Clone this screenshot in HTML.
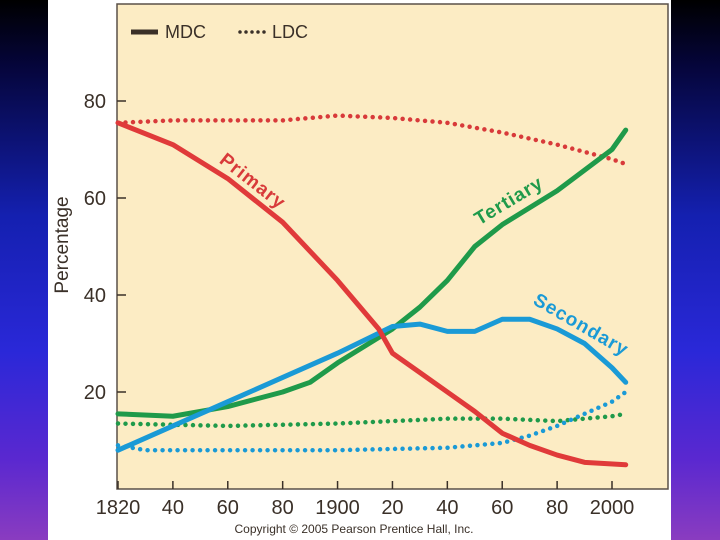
<!DOCTYPE html>
<html><head><meta charset="utf-8"><style>
html,body{margin:0;padding:0;}
body{width:720px;height:540px;overflow:hidden;background:linear-gradient(180deg,#000 0%,#05053a 12%,#1420b0 40%,#2a28d8 65%,#5a28d0 85%,#8a3cc0 100%);font-family:"Liberation Sans",sans-serif;}
svg{display:block;}
</style></head><body>
<svg width="720" height="540">
<rect x="48" y="0" width="623" height="540" fill="#ffffff"/>
<rect x="117" y="4" width="551" height="485" fill="#fcecc4" stroke="#5a5048" stroke-width="1.5"/>
<g id="axes"></g>
<g id="series"></g>
<g>
<line x1="131" y1="32" x2="158" y2="32" stroke="#3a3028" stroke-width="5"/>
<text x="165" y="38" font-size="18" fill="#3a3028">MDC</text>
<line x1="240" y1="32" x2="270" y2="32" stroke="#3a3028" stroke-width="3.5" stroke-dasharray="0 6" stroke-linecap="round"/>
<text x="272" y="38" font-size="18" fill="#3a3028">LDC</text>
</g>
<text transform="translate(68,245) rotate(-90)" text-anchor="middle" font-size="19" fill="#3a3028">Percentage</text>
<text x="249" y="186" transform="rotate(38 249 186)" text-anchor="middle" font-size="19" font-weight="bold" fill="#d83a3a" letter-spacing="1">Primary</text>
<text x="512" y="206" transform="rotate(-31 512 206)" text-anchor="middle" font-size="19" font-weight="bold" fill="#1f9a4a" letter-spacing="1">Tertiary</text>
<text x="578" y="330" transform="rotate(30 578 330)" text-anchor="middle" font-size="19" font-weight="bold" fill="#1a9ad6" letter-spacing="1">Secondary</text>
<text x="354" y="533" text-anchor="middle" font-size="12" fill="#3a3028">Copyright © 2005 Pearson Prentice Hall, Inc.</text>
</svg>
<script>
const xTicks=[1820,1840,1860,1880,1900,1920,1940,1960,1980,2000];
const xTickLabels=["1820","40","60","80","1900","20","40","60","80","2000"];
const yTicks=[20,40,60,80];
const primaryMdcYears=[1820,1840,1860,1880,1900,1915,1920,1930,1940,1950,1960,1970,1980,1990,2005];
const primaryMdc=[75.5,71,64,55,43,33,28,24,20,16,11.5,9,7,5.5,5];
const primaryLdcYears=[1820,1840,1880,1900,1920,1940,1960,1980,2000,2005];
const primaryLdc=[75.5,76,76,77,76.5,75.5,73.5,71,68,67];
const tertiaryMdcYears=[1820,1840,1860,1880,1890,1900,1920,1930,1940,1950,1960,1980,2000,2005];
const tertiaryMdc=[15.5,15,17,20,22,26,33,37.5,43,50,54.5,61.5,70,74];
const tertiaryLdcYears=[1820,1860,1900,1940,1960,1980,2000,2005];
const tertiaryLdc=[13.5,13,13.5,14.5,14.5,14,15,15.5];
const secondaryMdcYears=[1820,1840,1860,1880,1900,1920,1930,1940,1950,1960,1970,1980,1990,2000,2005];
const secondaryMdc=[8,13,18,23,28,33.5,34,32.5,32.5,35,35,33,30,25,22];
const secondaryLdcYears=[1820,1830,1860,1900,1940,1960,1970,1980,1990,2000,2005];
const secondaryLdc=[9,8,8,8,8.5,9.5,11,13,15.5,18,20];

const NS="http://www.w3.org/2000/svg";
const xs=y=>118+(y-1820)*(612-118)/180;
const ys=v=>489-v*4.85;
const axes=document.getElementById('axes');
xTicks.forEach((t,i)=>{
  const l=document.createElementNS(NS,'line');
  l.setAttribute('x1',xs(t));l.setAttribute('x2',xs(t));l.setAttribute('y1',481);l.setAttribute('y2',489);
  l.setAttribute('stroke','#3a3028');l.setAttribute('stroke-width','1.5');
  
  
  axes.appendChild(l);
  const tx=document.createElementNS(NS,'text');
  tx.setAttribute('x',xs(t));tx.setAttribute('y',514);tx.setAttribute('text-anchor','middle');
  tx.setAttribute('font-size','20');tx.setAttribute('fill','#3a3028');
  tx.textContent=xTickLabels[i];
  
  
  axes.appendChild(tx);
});
yTicks.forEach(t=>{
  const l=document.createElementNS(NS,'line');
  l.setAttribute('x1',117);l.setAttribute('x2',126);l.setAttribute('y1',ys(t));l.setAttribute('y2',ys(t));
  l.setAttribute('stroke','#3a3028');l.setAttribute('stroke-width','1.5');
  
  
  axes.appendChild(l);
  const tx=document.createElementNS(NS,'text');
  tx.setAttribute('x',106);tx.setAttribute('y',ys(t)+7);tx.setAttribute('text-anchor','end');
  tx.setAttribute('font-size','20');tx.setAttribute('fill','#3a3028');
  tx.textContent=t;
  
  
  axes.appendChild(tx);
});
const series=document.getElementById('series');
function draw(years,vals,color,dotted,name){
  const p=document.createElementNS(NS,'polyline');
  p.setAttribute('points',years.map((y,i)=>xs(y)+','+ys(vals[i])).join(' '));
  p.setAttribute('fill','none');p.setAttribute('stroke',color);
  p.setAttribute('stroke-linejoin','round');p.setAttribute('stroke-linecap','round');
  if(dotted){p.setAttribute('stroke-width','4.5');p.setAttribute('stroke-dasharray','0 7.5');}
  else p.setAttribute('stroke-width','5');
  
  
  series.appendChild(p);
}
draw(tertiaryLdcYears,tertiaryLdc,'#1f9a4a',true,'tertiary-ldc-line');
draw(secondaryLdcYears,secondaryLdc,'#1a9ad6',true,'secondary-ldc-line');
draw(primaryLdcYears,primaryLdc,'#d83a3a',true,'primary-ldc-line');
draw(tertiaryMdcYears,tertiaryMdc,'#1f9a4a',false,'tertiary-mdc-line');
draw(secondaryMdcYears,secondaryMdc,'#1a9ad6',false,'secondary-mdc-line');
draw(primaryMdcYears,primaryMdc,'#e03a3a',false,'primary-mdc-line');
</script>
</body></html>
